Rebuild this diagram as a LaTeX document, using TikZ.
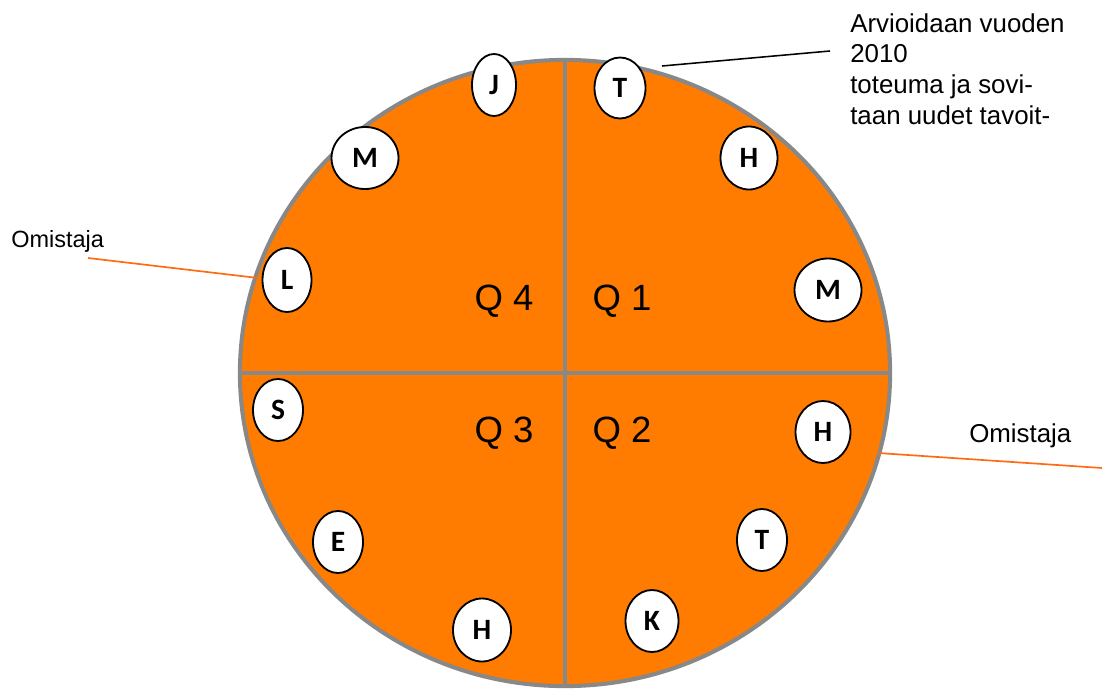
\documentclass[tikz,border=0pt]{standalone}
\usepackage{fontspec}
\setmainfont{Liberation Sans}
\newfontfamily\tagfont{Carlito}
\usetikzlibrary{shapes.geometric}
\definecolor{wheelorange}{HTML}{FF7C00}
\definecolor{rimgray}{HTML}{888888}
\definecolor{leadorange}{HTML}{FF6A13}

\begin{document}
\begin{tikzpicture}[x=0.025cm, y=-0.025cm,
  wheel/.style={ellipse, draw=rimgray, line width=2.9pt, fill=wheelorange, minimum width=16.25cm, minimum height=15.65cm, inner sep=0pt},
  divider/.style={draw=rimgray, line width=2.9pt},
  tag/.style={ellipse, draw=black, line width=1.3pt, fill=white, inner sep=0pt, font={\fontsize{21}{25}\selectfont\tagfont\bfseries}},
  quarter/.style={anchor=base, font={\fontsize{26}{31}\selectfont}},
  remark/.style={inner sep=0pt, font={\fontsize{18.4}{22}\selectfont}},
  lead/.style={leadorange, line width=1.2pt},
  callout/.style={black, line width=1.1pt}
]
\useasboundingbox (0,0) rectangle (1102,689);

% Year wheel
\node[wheel] (wheel) at (565,373) {};
\draw[divider] (wheel.north) -- (wheel.south);
\draw[divider] (wheel.west) -- (wheel.east);

% Month tags
\foreach \nm/\cx/\cy/\w/\h/\txt in {
  tJ/494/85/44/62/J, tT/620/88/51/61/T, tM/365/158/67/62/M, tH/749/158/57/63/H,
  tL/287/280/49/64/L, tMb/828/290/67/63/M, tS/278/410/50/62/S, tHb/823/432/55/62/H,
  tE/338/542/50/62/E, tTb/762/540/50/62/T, tHc/482/630/58/63/H, tK/652/621/53/62/K} {
  \node[tag, minimum width={\w*0.025cm}, minimum height={\h*0.025cm}] (\nm) at (\cx,\cy) {\txt};
}

% Quarters
\node[quarter] (q4) at (504,310) {Q 4};
\node[quarter] (q1) at (622,310) {Q 1};
\node[quarter] (q3) at (504,442) {Q 3};
\node[quarter] (q2) at (622,442) {Q 2};

% Notes
\node[remark, anchor=north west, align=left] (review) at (850,13) {Arvioidaan vuoden\\2010\\toteuma ja sovi-\\taan uudet tavoit-};
\node[remark, anchor=base west, font={\fontsize{16.7}{20}\selectfont}] (ownerL) at (11,247) {Omistaja};
\node[remark, anchor=base west] (ownerR) at (969,442) {Omistaja};

% Leader lines
\coordinate (rimT) at (662,66);
\coordinate (reviewtip) at (830,51);
\coordinate (ownerLtip) at (88,258);
\coordinate (rimL) at (258,278);
\coordinate (rimR) at (878,453);
\coordinate (ownerRtip) at (1102,468);
\draw[callout] (rimT) -- (reviewtip);
\draw[lead] (ownerLtip) -- (rimL);
\draw[lead] (rimR) -- (ownerRtip);

\end{tikzpicture}
\end{document}
